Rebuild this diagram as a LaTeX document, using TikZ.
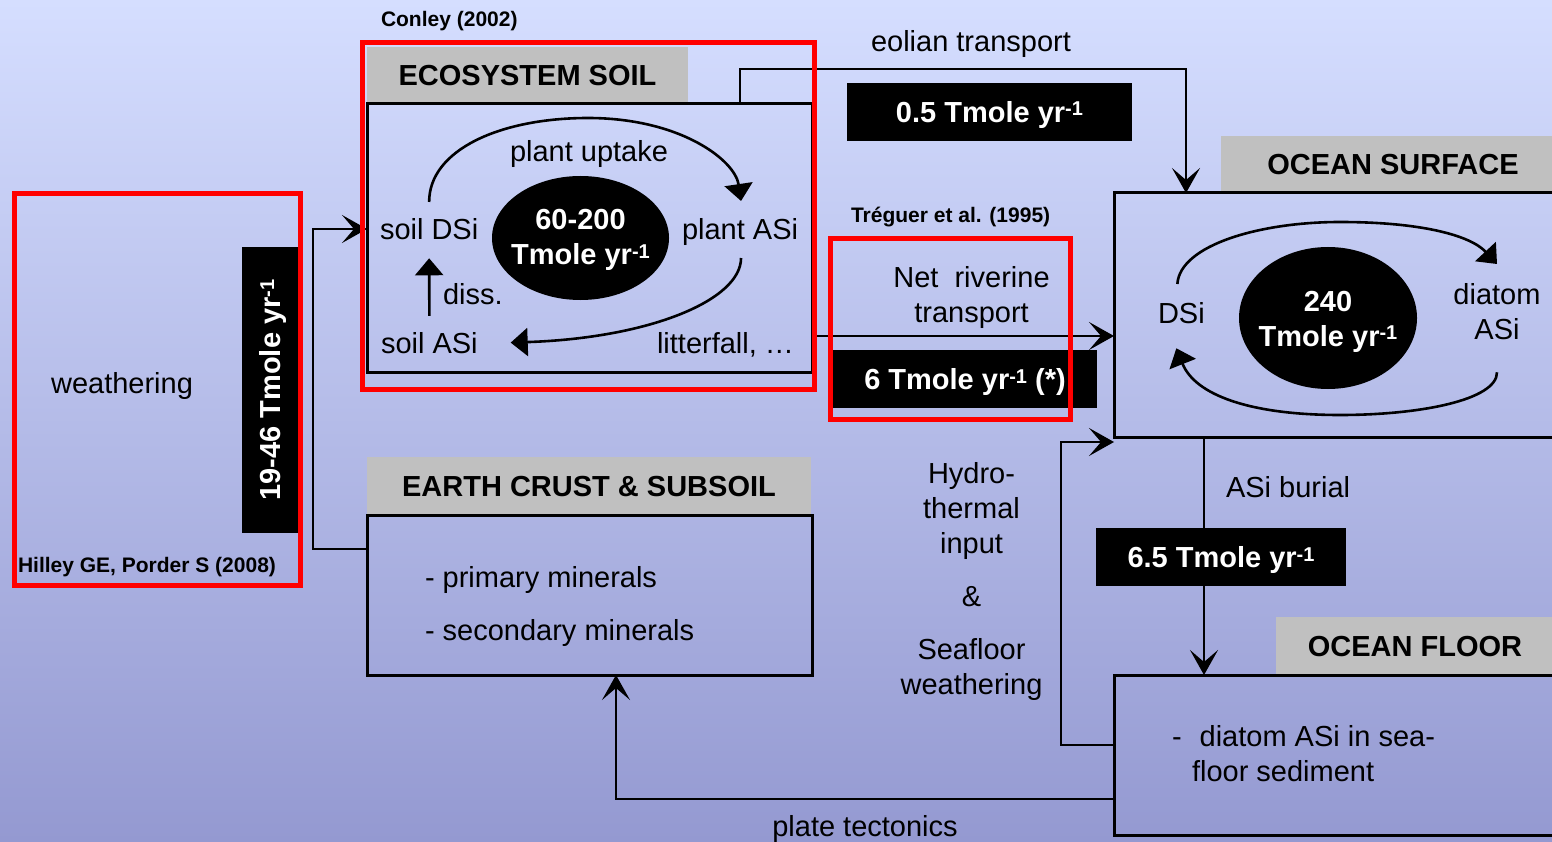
\documentclass[tikz,border=0pt]{standalone}
\usepackage{fontspec}
\setmainfont{Liberation Sans}
\usetikzlibrary{arrows.meta,shapes.geometric,calc}
\definecolor{bgtop}{RGB}{213,222,255}
\definecolor{bgbot}{RGB}{148,153,209}
\definecolor{headgray}{RGB}{192,192,192}
% raised exponent as used in the flux labels
\newcommand\expo[1]{\raisebox{6.5pt}{\fontsize{20}{20}\selectfont #1}}
\begin{document}
\begin{tikzpicture}[x=1pt,y=-1pt,
  every node/.style={inner sep=0pt, outer sep=0pt},
  reg/.style={font=\fontsize{29}{35}\selectfont},
  bld/.style={font=\bfseries\fontsize{29}{35}\selectfont},
  cite/.style={font=\bfseries\fontsize{21}{25}\selectfont},
  box/.style={draw=black, line width=3pt, anchor=north west},
  head/.style={fill=headgray, anchor=north west, bld, text height=21pt, text depth=0pt},
  rate/.style={fill=black, text=white, bld, text height=21pt, text depth=0pt},
  blob/.style={ellipse, fill=black},
  blobtext/.style={text=white, bld, align=center},
  redframe/.style={draw=red, line width=5pt, anchor=north west},
  conn/.style={line width=2.6pt, -{Stealth[length=25pt,width=28pt,inset=12pt]}},
  loopy/.style={line width=2.6pt, -{Triangle[length=17pt,width=28pt]}},
]
\clip (0,0) rectangle (1552,842);
\shade[top color=bgtop, bottom color=bgbot] (0,0) rectangle (1552,842);

% reservoirs: grey title tab above an outlined box
\node[head, minimum width=321pt, minimum height=57pt] (ecohead) at (367,47) {ECOSYSTEM SOIL};
\node[box, minimum width=445pt, minimum height=268pt] (eco) at (367,104) {};
\node[head, minimum width=444pt, minimum height=58pt] (crusthead) at (367,457) {EARTH CRUST \& SUBSOIL};
\node[box, minimum width=445pt, minimum height=160pt] (crust) at (367,515) {};
\node[head, minimum width=344pt, minimum height=57pt] (surfhead) at (1221,136) {OCEAN SURFACE};
\node[box, minimum width=460pt, minimum height=244pt] (surf) at (1114,193) {};
\node[head, minimum width=278pt, minimum height=58pt] (floorhead) at (1276,617) {OCEAN FLOOR};
\node[box, minimum width=460pt, minimum height=160pt] (floor) at (1114,675) {};

% fluxes between reservoirs
\coordinate (wk) at (313,229);
\draw[conn] ($(crust.north west)+(0,34)$) -| (wk) -- (eco.west |- wk);
\coordinate (eoa) at (740,69);
\coordinate (eob) at (1186,69);
\draw[conn] (eco.north -| eoa) -- (eoa) -- (eob) -- (surf.north -| eob);
\coordinate (rv) at (0,336);
\draw[conn] (eco.east |- rv) -- (surf.west |- rv);
\coordinate (hya) at (1061,745);
\coordinate (hyb) at (1061,442);
\draw[conn] (floor.west |- hya) -- (hya) -- (hyb) -- (surf.west |- hyb);
\coordinate (bu) at (1204,0);
\draw[conn] (surf.south -| bu) -- (floor.north -| bu);
\coordinate (pl) at (616,799);
\draw[conn] (floor.west |- pl) -| (crust.south -| pl);

% ecosystem soil cycle
\node[reg, anchor=base west] (sdsi) at (380,240) {soil DSi};
\node[reg, anchor=base west] (pasi) at (682,240) {plant ASi};
\node[reg, anchor=base west] (sasi) at (381,353) {soil ASi};
\node[reg, anchor=base west] (litter) at (657,353) {litterfall, …};
\node[reg, anchor=base west] (uptake) at (510,162) {plant uptake};
\node[reg, anchor=base west] (diss) at (443,304) {diss.};
\node[blob, minimum width=177pt, minimum height=124pt] (ecoblob) at (580.5,238) {};
\node[blobtext] (ecoblobtxt) at ($(ecoblob.center)+(0,2)$) {60-200\\Tmole yr\expo{-1}};
\draw[loopy] ($(sdsi.north)+(0,-17)$) .. controls (429,150) and (500,118) .. (588,118)
  .. controls (680,118) and (735,160) .. ($(pasi.north)+(1,-18)$);
\draw[loopy] ($(pasi.south)+(1,12)$) .. controls (741,300) and (650,338) .. ($(sasi.east)+(33,0)$);
\draw[loopy] ($(sasi.north)+(0,-16)$) -- ($(sdsi.south)+(0,18)$);

% ocean surface cycle
\node[reg, anchor=base west] (dsi) at (1158,323) {DSi};
\node[reg, align=center, anchor=north] (diat) at (1497,283) {diatom\\ASi};
\node[blob, minimum width=178pt, minimum height=142pt] (oceanblob) at (1328,318) {};
\node[blobtext] (oceanblobtxt) at ($(oceanblob.center)+(0,3.7)$) {240\\Tmole yr\expo{-1}};
\draw[loopy] ($(dsi.north)+(-4,-18)$) .. controls (1180,245) and (1260,222) .. (1340,222)
  .. controls (1420,222) and (1470,235) .. ($(diat.north)+(0,-19)$);
\draw[loopy] ($(diat.south)+(0,33)$) .. controls (1497,400) and (1420,415) .. (1340,415)
  .. controls (1250,415) and (1195,395) .. ($(dsi.south)+(-5,25)$);

% labels
\node[reg, anchor=base] (weath) at (122,393) {weathering};
\node[cite, anchor=base west] (hilley) at (18,572) {Hilley GE, Porder S (2008)};
\node[cite, anchor=base west] (conley) at (381,27) {Conley (2002)};
\node[cite, anchor=base west] (treguer) at (851,223) {Tréguer et al. (1995)};
\node[reg, anchor=base west] (prim) at (425,587) {- primary minerals};
\node[reg, anchor=base west] (secd) at (425,640) {- secondary minerals};
\node[reg, anchor=base west] (eolian) at (871,52) {eolian transport};
\node[reg, align=center, anchor=north] (river) at (971.5,266) {Net~~riverine\\transport};
\node[reg, align=center, anchor=north] (hydro) at (971.5,462) {Hydro-\\thermal\\input\\[18pt]\&\\[18pt]Seafloor\\weathering};
\node[reg, anchor=base west] (burial) at (1226,497) {ASi burial};
\node[reg, align=left, anchor=north west] (sediment) at (1172,725) {-\hspace*{18pt}diatom ASi in sea-\\\hspace*{20pt}floor sediment};
\node[reg, anchor=base] (plate) at (865,836) {plate tectonics};

% flux magnitudes
\node[rate, rotate=90, minimum width=286pt, minimum height=56pt] (wrate) at (270,390) {19-46 Tmole yr\expo{-1}};
\node[rate, minimum width=285pt, minimum height=58pt] (eolrate) at (989.5,112) {0.5 Tmole yr\expo{-1}};
\node[rate, minimum width=264pt, minimum height=58pt] (rivrate) at (965,379) {6 Tmole yr\expo{-1} (*)};
\node[rate, minimum width=250pt, minimum height=58pt] (burrate) at (1221,557) {6.5 Tmole yr\expo{-1}};

% highlighted sources
\node[redframe, minimum width=286.5pt, minimum height=391.5pt] (hilleyframe) at (14,194) {};
\node[redframe, minimum width=451.5pt, minimum height=346.5pt] (conleyframe) at (362.5,42.5) {};
\node[redframe, minimum width=240pt, minimum height=180pt] (treguerframe) at (830.5,239) {};
\end{tikzpicture}
\end{document}
